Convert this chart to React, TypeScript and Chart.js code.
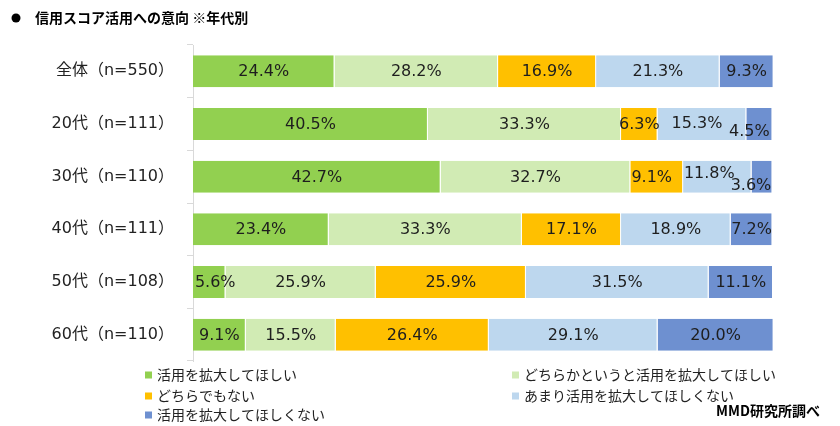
import { useEffect, useRef } from 'react';
import { Chart, registerables } from 'chart.js';

Chart.register(...registerables);

const categories = ['全体（n=550）', '20代（n=111）', '30代（n=110）', '40代（n=111）', '50代（n=108）', '60代（n=110）'];
const seriesNames = [
  '活用を拡大してほしい',
  'どちらかというと活用を拡大してほしい',
  'どちらでもない',
  'あまり活用を拡大してほしくない',
  '活用を拡大してほしくない',
];
const wantExpand = [24.4, 40.5, 42.7, 23.4, 5.6, 9.1];
const ratherExpand = [28.2, 33.3, 32.7, 33.3, 25.9, 15.5];
const neutral = [16.9, 6.3, 9.1, 17.1, 25.9, 26.4];
const notReally = [21.3, 15.3, 11.8, 18.9, 31.5, 29.1];
const notWant = [9.3, 4.5, 3.6, 7.2, 11.1, 20.0];
const seriesValues = [wantExpand, ratherExpand, neutral, notReally, notWant];
const seriesColors = ['#92D050', '#D1EBB4', '#FFC000', '#BDD7EE', '#6E90D0'];

const titleText = '信用スコア活用への意向 ※年代別';
const sourceText = 'MMD研究所調べ';

// label nudges (dataset-index : [dx, dy]) mimicking the original's placement
const labelNudges: Record<string, [number, number]> = {
  '3-1': [-5, -1],
  '4-1': [-10, 7],
  '2-2': [-5, 0],
  '3-2': [-8, -4],
  '4-2': [-11, 8],
  '0-4': [6, 0],
};

const textFont = "'DejaVu Sans', 'Noto Sans CJK JP', sans-serif";
const cjkFont = "'Noto Sans CJK JP', 'DejaVu Sans', sans-serif";

const labelPlugin = {
  id: 'segLabels',
  afterDatasetsDraw(chart: any) {
    const ctx = chart.ctx;
    ctx.save();
    ctx.font = `16px ${textFont}`;
    ctx.fillStyle = '#1E1E1E';
    ctx.textAlign = 'center';
    ctx.textBaseline = 'middle';
    chart.data.datasets.forEach((ds: any, di: number) => {
      const meta = chart.getDatasetMeta(di);
      meta.data.forEach((el: any, i: number) => {
        const p = el.getProps(['x', 'y', 'base'], true);
        const nudge = labelNudges[`${di}-${i}`] || [0, 0];
        const cx = (p.x + p.base) / 2 + nudge[0];
        const cy = p.y + 1 + nudge[1];
        ctx.fillText(ds.data[i].toFixed(1) + '%', cx, cy);
      });
    });
    ctx.restore();
  },
};

const decorPlugin = {
  id: 'decor',
  afterDraw(chart: any) {
    const ctx = chart.ctx;
    ctx.save();
    // title
    ctx.fillStyle = '#000';
    ctx.beginPath();
    ctx.arc(16, 18, 4.5, 0, Math.PI * 2);
    ctx.fill();
    ctx.font = `bold 14px ${cjkFont}`;
    ctx.textAlign = 'left';
    ctx.textBaseline = 'middle';
    ctx.fillText(titleText, 35, 18);

    // legend
    const colX = [145, 512];
    const rowY = [375, 396, 415];
    ctx.font = `14px ${cjkFont}`;
    chart.data.datasets.forEach((ds: any, i: number) => {
      const x = colX[i % 2];
      const y = rowY[Math.floor(i / 2)];
      ctx.fillStyle = ds.backgroundColor;
      ctx.fillRect(x, y - 3.5, 7, 7);
      ctx.fillStyle = '#222';
      ctx.fillText(ds.label, x + 12, y);
    });

    // source
    ctx.font = `bold 14px ${cjkFont}`;
    ctx.textAlign = 'right';
    ctx.fillStyle = '#000';
    ctx.fillText(sourceText, 820, 411);
    ctx.restore();
  },
};

export default function App() {
  const ref = useRef<HTMLCanvasElement | null>(null);
  useEffect(() => {
    if (!ref.current) return;
    const chart = new Chart(ref.current, {
      type: 'bar',
      data: {
        labels: categories,
        datasets: seriesValues.map((vals, i) => ({
          label: seriesNames[i],
          data: vals,
          backgroundColor: seriesColors[i],
          borderColor: '#FFFFFF',
          borderWidth: { top: 0, bottom: 0, left: 0, right: 1 },
          borderSkipped: false,
          categoryPercentage: 1,
          barPercentage: 0.607,
        })),
      },
      options: {
        indexAxis: 'y',
        animation: false,
        responsive: true,
        maintainAspectRatio: false,
        layout: { padding: { top: 45, bottom: 65, left: 0, right: 67 } },
        plugins: {
          legend: { display: false },
          tooltip: { enabled: false },
          title: { display: false },
        },
        scales: {
          x: { display: false, stacked: true, min: 0, max: 100 },
          y: {
            stacked: true,
            grid: {
              drawOnChartArea: false,
              drawTicks: true,
              tickLength: 6,
              color: '#D9D9D9',
              offset: true,
            },
            border: { display: true, color: '#D9D9D9' },
            ticks: {
              padding: 13,
              color: '#222',
              font: { family: textFont, size: 16 },
            },
            afterFit: (scale: any) => {
              scale.width = 193;
            },
          },
        },
      },
      plugins: [labelPlugin, decorPlugin],
    } as any);
    return () => chart.destroy();
  }, []);
  return (
    <div style={{ position: 'absolute', left: 0, top: 0, width: 840, height: 426, background: '#fff' }}>
      <canvas ref={ref} />
    </div>
  );
}
